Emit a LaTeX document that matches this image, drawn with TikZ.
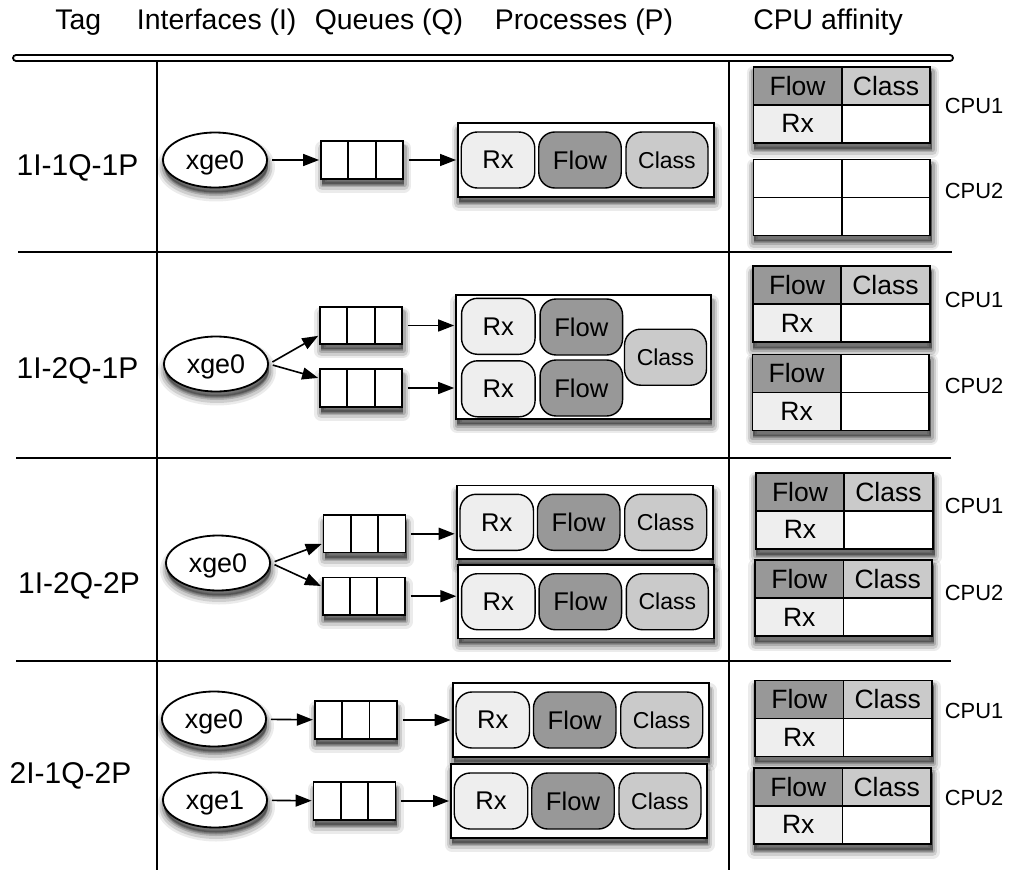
\documentclass[tikz,border=0pt]{standalone}
\usepackage{fontspec}
\setmainfont{Liberation Sans}
\usetikzlibrary{shapes.geometric,arrows.meta,shadows,calc,matrix}

\definecolor{flowgray}{RGB}{152,152,152}
\definecolor{classgray}{RGB}{202,202,202}
\definecolor{rxgray}{RGB}{238,238,238}

\newcommand\fsz[1]{\fontsize{#1}{#1}\selectfont}

\tikzset{
  % soft drop shadow built from stacked translucent copies
  softshadow/.style={
    general shadow={fill=black, draw=black, line width=14pt, line join=round,
        opacity=0.08, shadow xshift=1pt, shadow yshift=-7pt},
    general shadow={fill=black, draw=black, line width=9pt, line join=round,
        opacity=0.12, shadow xshift=1pt, shadow yshift=-7pt},
    general shadow={fill=black, draw=black, line width=5pt, line join=round,
        opacity=0.16, shadow xshift=1pt, shadow yshift=-6pt},
    general shadow={fill=black, opacity=0.28, shadow xshift=1pt, shadow yshift=-5pt}},
  rule/.style={line width=2pt},
  hdr/.style={anchor=base, font=\fsz{28.4}, inner sep=0pt},
  tag/.style={anchor=base, font=\fsz{30}, inner sep=0pt},
  cpulabel/.style={anchor=west, font=\fsz{21.9}, inner sep=0pt},
  iface/.style={ellipse, draw, line width=1.8pt, fill=white, minimum width=104pt,
      minimum height=55pt, inner sep=0pt, text depth=0pt, font=\fsz{26.9}, softshadow},
  queue/.style={rectangle, draw, line width=1.8pt, fill=white, minimum width=82pt,
      minimum height=37.5pt, inner sep=0pt, softshadow,
      path picture={
        \draw[line width=1.8pt]
          ($(path picture bounding box.north west)!1/3!(path picture bounding box.north east)$) --
          ($(path picture bounding box.south west)!1/3!(path picture bounding box.south east)$)
          ($(path picture bounding box.north west)!2/3!(path picture bounding box.north east)$) --
          ($(path picture bounding box.south west)!2/3!(path picture bounding box.south east)$);}},
  procbox/.style={rectangle, draw, line width=1.8pt, fill=white, minimum width=256pt,
      minimum height=73.5pt, inner sep=0pt, softshadow},
  pill/.style={rectangle, rounded corners=16pt, draw, line width=1.4pt,
      minimum height=56pt, inner sep=0pt},
  rxpill/.style={pill, fill=rxgray, minimum width=73.5pt, font=\fsz{25.6}},
  flowpill/.style={pill, fill=flowgray, minimum width=82.5pt, font=\fsz{25.6}},
  classpill/.style={pill, fill=classgray, minimum width=82pt, font=\fsz{23}},
  cputable/.style={matrix of nodes, nodes in empty cells, anchor=north west,
      inner sep=0pt, column sep=-1.8pt, row sep=-1.8pt, fill=white, softshadow,
      nodes={rectangle, draw, line width=1.8pt, fill=white, minimum width=88.4pt,
        minimum height=38pt, inner sep=0pt, font=\fsz{26.5}, anchor=center}},
  flowc/.style={fill=flowgray},
  classc/.style={fill=classgray},
  rxc/.style={fill=rxgray},
  link/.style={line width=1.6pt, -{Triangle[length=16pt,width=12pt]},
      shorten <=4pt, shorten >=1pt},
}

% one process: a framed box holding the Rx, Flow and Class stages
\newcommand\proc[3]{% name, left x, centre y
  \node[procbox, anchor=west] (#1) at (#2,#3) {};
  \node[rxpill] (#1-rx) at (#2+41,#3) {Rx};
  \node[flowpill] (#1-flow) at (#2+123,#3) {Flow};
  \node[classpill] (#1-class) at (#2+210,#3) {Class};
}

% one CPU: a 2x2 grid of the stages pinned to it
\newcommand\cputab[5]{% name, left x, top y, top row, bottom row
  \matrix (#1) [cputable, ampersand replacement=\&, at={(#2,#3)}] {#4 \\ #5 \\};
}

\begin{document}
\begin{tikzpicture}[x=1pt, y=-1pt]
\useasboundingbox (0,0) rectangle (1013,870);

% column headings
\node[hdr] (h-tag) at (78.3,30) {Tag};
\node[hdr] (h-if) at (216.7,30) {Interfaces (I)};
\node[hdr] (h-q) at (389,30) {Queues (Q)};
\node[hdr] (h-p) at (584,30) {Processes (P)};
\node[hdr] (h-cpu) at (828,30) {CPU affinity};

% table rules
\draw[rule] (157,61) -- (157,870);
\draw[rule] (729,61) -- (729,870);
\draw[rule] (18,251.7) -- (952,251.7);
\draw[rule] (16,457.7) -- (951,457.7);
\draw[rule] (16,660.5) -- (951,660.5);
\draw[line width=1.8pt, rounded corners=3pt, fill=white] (13,55) rectangle (953,61);

% row tags
\node[tag] (t1) at (77.5,175) {1I-1Q-1P};
\node[tag] (t2) at (77.5,378) {1I-2Q-1P};
\node[tag] (t3) at (79,593) {1I-2Q-2P};
\node[tag] (t4) at (70.5,783) {2I-1Q-2P};

% ---- 1I-1Q-1P
\node[iface] (e1) at (215,160) {xge0};
\node[queue] (q1) at (362,160) {};
\proc{p1}{457}{160}
\draw[link] (e1) -- (q1);
\draw[link, shorten <=5pt] (q1.east) -- (q1.east -| p1.west);
\cputab{c1a}{752.3}{65.7}{|[flowc]| Flow \& |[classc]| Class}{|[rxc]| Rx \& }
\cputab{c1b}{752.3}{158.3}{ \& }{ \& }
\node[cpulabel] (l1a) at (944.7,106) {CPU1};
\node[cpulabel] (l1b) at (944.7,191) {CPU2};

% ---- 1I-2Q-1P
\node[iface] (e2) at (216,364) {xge0};
\node[queue] (q2a) at (361,325.5) {};
\node[queue] (q2b) at (361,388) {};
\node[procbox, minimum width=255.3pt, minimum height=124pt] (p2) at (583.7,357) {};
\node[rxpill] (p2-rx1) at (498.3,326.3) {Rx};
\node[rxpill] (p2-rx2) at (498.3,388.8) {Rx};
\node[flowpill] (p2-flow1) at (581.3,327) {Flow};
\node[flowpill] (p2-flow2) at (581.3,388) {Flow};
\node[classpill] (p2-class) at (665.5,357.2) {Class};
\draw[link] (e2.east) -- ($(q2a.west)!0.5!(q2a.south west)$);
\draw[link] (e2.east) -- ($(q2b.west)!0.5!(q2b.north west)$);
\draw[link, shorten <=5pt] (q2a.east) -- (q2a.east -| p2.west);
\draw[link, shorten <=5pt] (q2b.east) -- (q2b.east -| p2.west);
\cputab{c2a}{751.7}{265}{|[flowc]| Flow \& |[classc]| Class}{|[rxc]| Rx \& }
\cputab{c2b}{751.3}{353.3}{|[flowc]| Flow \& }{|[rxc]| Rx \& }
\node[cpulabel] (l2a) at (944.7,300) {CPU1};
\node[cpulabel] (l2b) at (944.7,386) {CPU2};

% ---- 1I-2Q-2P
\node[iface] (e3) at (218,563) {xge0};
\node[queue] (q3a) at (364.5,533.8) {};
\node[queue] (q3b) at (363.7,596.2) {};
\proc{p3a}{455.7}{522.3}
\proc{p3b}{457.3}{601.7}
\draw[link] (e3.east) -- ($(q3a.west)!0.5!(q3a.south west)$);
\draw[link] (e3.east) -- ($(q3b.west)!0.5!(q3b.north west)$);
\draw[link, shorten <=5pt] (q3a.east) -- (q3a.east -| p3a.west);
\draw[link, shorten <=5pt] (q3b.east) -- (q3b.east -| p3b.west);
\cputab{c3a}{754.7}{471.7}{|[flowc]| Flow \& |[classc]| Class}{|[rxc]| Rx \& }
\cputab{c3b}{754}{559}{|[flowc]| Flow \& |[classc]| Class}{|[rxc]| Rx \& }
\node[cpulabel] (l3a) at (944.7,506) {CPU1};
\node[cpulabel] (l3b) at (944.7,593) {CPU2};

% ---- 2I-1Q-2P
\node[iface] (e4a) at (214,719) {xge0};
\node[iface] (e4b) at (215,800) {xge1};
\node[queue] (q4a) at (355.8,720) {};
\node[queue] (q4b) at (354.5,801) {};
\proc{p4a}{451.7}{720}
\proc{p4b}{450}{801}
\draw[link] (e4a) -- (q4a);
\draw[link] (e4b) -- (q4b);
\draw[link, shorten <=5pt] (q4a.east) -- (q4a.east -| p4a.west);
\draw[link, shorten <=5pt] (q4b.east) -- (q4b.east -| p4b.west);
\cputab{c4a}{754}{679.3}{|[flowc]| Flow \& |[classc]| Class}{|[rxc]| Rx \& }
\cputab{c4b}{753}{766.7}{|[flowc]| Flow \& |[classc]| Class}{|[rxc]| Rx \& }
\node[cpulabel] (l4a) at (944.7,711) {CPU1};
\node[cpulabel] (l4b) at (944.7,797.5) {CPU2};
\end{tikzpicture}
\end{document}
